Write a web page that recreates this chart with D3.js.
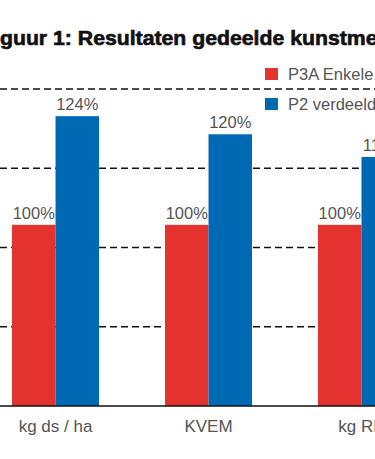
<!DOCTYPE html>
<html>
<head>
<meta charset="utf-8">
<script src="https://cdn.jsdelivr.net/npm/d3@7"></script>
<style>
  html, body { margin: 0; padding: 0; background: #fff; }
  svg { display: block; }
</style>
</head>
<body>
<div id="chart"></div>
<script>
// data
const categories = ['kg ds / ha', 'KVEM', 'kg RE'];
const seriesNames = ['P3A Enkele gift', 'P2 verdeelde gift'];
const p3aValues = [100, 100, 100];
const p2Values = [124, 120, 115];
const gridValues = [77.5, 95, 112.5, 130];
const titleText = 'Figuur 1: Resultaten gedeelde kunstmest';

const colors = ['#e4322f', '#0069b4'];

function drawChart() {
  const W = 375, H = 459;
  const svg = d3.select('#chart').append('svg')
    .attr('width', W).attr('height', H);

  const x0 = d3.scaleBand().domain(categories).range([12, 405]).paddingInner(0.431).paddingOuter(0);
  const x1 = d3.scaleBand().domain(seriesNames).range([0, x0.bandwidth()]).padding(0);
  const y = d3.scaleLinear().domain([60, 130]).range([406, 89]);

  // Grid lines (dashed)
  svg.selectAll('.grid').data(gridValues).join('line')
    .attr('x1', 0).attr('x2', W)
    .attr('y1', d => y(d)).attr('y2', d => y(d))
    .attr('stroke', '#111').attr('stroke-width', 1.6)
    .attr('stroke-dasharray', '7,4');

  // Bars
  const rows = categories.map((c, i) => ({ cat: c, vals: [p3aValues[i], p2Values[i]] }));
  const grp = svg.selectAll('.grp').data(rows).join('g')
    .attr('transform', d => `translate(${x0(d.cat)},0)`);

  grp.selectAll('rect').data(d => d.vals.map((v, j) => ({ s: seriesNames[j], v, j }))).join('rect')
    .attr('x', d => x1(d.s)).attr('width', x1.bandwidth())
    .attr('y', d => y(d.v)).attr('height', d => y.range()[0] - y(d.v))
    .attr('fill', d => colors[d.j]);

  // Value labels
  grp.selectAll('.val').data(d => d.vals.map((v, j) => ({ s: seriesNames[j], v, j }))).join('text')
    .attr('x', d => x1(d.s) + x1.bandwidth() / 2)
    .attr('y', d => y(d.v) - 6)
    .attr('text-anchor', 'middle')
    .attr('font-family', 'Liberation Sans, Arial, sans-serif')
    .attr('font-size', '16.5px').attr('fill', '#555')
    .text(d => d.v + '%');

  // X axis line
  svg.append('line').attr('x1', 0).attr('x2', W)
    .attr('y1', y.range()[0]).attr('y2', y.range()[0])
    .attr('stroke', '#111').attr('stroke-width', 1.6);

  // Category labels
  svg.selectAll('.cat').data(categories).join('text')
    .attr('x', d => x0(d) + x0.bandwidth() / 2)
    .attr('y', 432)
    .attr('text-anchor', 'middle')
    .attr('font-family', 'Liberation Sans, Arial, sans-serif')
    .attr('font-size', '17px').attr('fill', '#555')
    .text(d => d);

  // Legend
  const leg = svg.selectAll('.leg').data(seriesNames).join('g')
    .attr('transform', (d, i) => `translate(265,${68 + i * 30})`);
  leg.append('rect').attr('width', 13).attr('height', 12)
    .attr('fill', (d, i) => colors[i]);
  leg.append('text').attr('x', 23).attr('y', 12)
    .attr('font-family', 'Liberation Sans, Arial, sans-serif')
    .attr('font-size', '16.5px').attr('fill', '#555')
    .text(d => d);

  // Title (cropped on the left as in the source), horizontally condensed
  const t = svg.append('text')
    .attr('font-family', 'Liberation Sans, Arial, sans-serif')
    .attr('font-weight', 'bold')
    .attr('font-size', '19.5px').attr('fill', '#111')
    .attr('stroke', '#111').attr('stroke-width', 0.6)
    .text(titleText);
  const node = t.node();
  const seg = node.getSubStringLength(2, 34);
  const sx = 366 / seg;
  const pre = node.getSubStringLength(0, 2);
  t.attr('transform', `translate(${-pre * sx},45) scale(${sx},1)`);
}

drawChart();
</script>
</body>
</html>
